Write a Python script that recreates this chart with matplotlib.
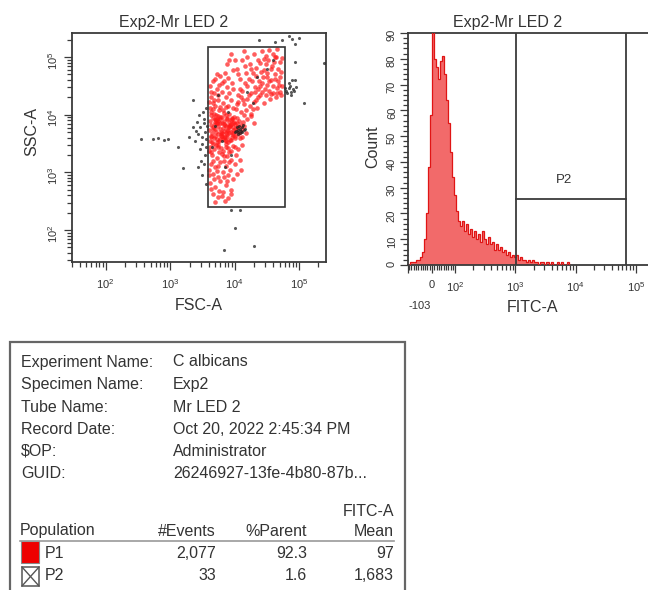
import numpy as np
import matplotlib
matplotlib.use('Agg')
import matplotlib.pyplot as plt
import matplotlib.ticker as mt
import matplotlib.transforms as mtrans
from matplotlib.patches import Rectangle
from matplotlib.lines import Line2D

plt.rcParams['font.family'] = ['Liberation Sans', 'DejaVu Sans']
plt.rcParams['mathtext.fontset'] = 'custom'
plt.rcParams['mathtext.rm'] = 'Liberation Sans'
plt.rcParams['mathtext.it'] = 'Liberation Sans:italic'
plt.rcParams['mathtext.bf'] = 'Liberation Sans:bold'

# ---------------- data ----------------
title = "Exp2-Mr LED 2"

# P1 events (log10 FSC-A, log10 SSC-A)
p1_fsc_log = [
    3.62,3.65,3.63,3.66,3.64,3.68,3.70,3.69,3.71,3.72,3.74,3.75,3.73,3.76,3.78,3.79,3.77,3.80,3.81,3.82,
    3.83,3.84,3.86,3.87,3.85,3.88,3.89,3.90,3.91,3.92,3.94,3.95,3.93,3.96,3.97,3.98,3.99,4.00,4.02,4.01,
    4.03,4.05,4.06,4.07,4.09,4.10,4.12,4.13,4.15,4.11,3.61,3.62,3.67,3.68,3.70,3.72,3.74,3.76,3.78,3.80,
    3.82,3.84,3.86,3.88,3.90,3.92,3.94,3.96,3.98,4.00,3.64,3.66,3.69,3.71,3.73,3.75,3.77,3.79,3.81,3.83,
    3.85,3.87,3.89,3.91,3.93,3.95,3.97,3.99,4.04,4.08,
    3.62,3.66,3.70,3.64,3.74,3.78,3.68,3.82,3.72,3.86,3.76,3.90,3.80,3.94,3.84,3.98,3.88,3.62,3.92,3.70,
    3.96,3.66,3.78,3.86,3.74,3.60,3.90,3.82,3.98,3.68,
    4.02,4.06,4.10,4.05,4.14,4.18,4.12,4.20,4.24,4.16,4.26,4.30,4.22,4.32,4.36,4.28,4.38,4.42,4.34,4.44,
    4.48,4.40,4.50,4.54,4.46,4.56,4.60,4.52,4.62,4.66,4.58,4.68,4.70,4.64,4.72,4.74,4.08,4.04,4.12,4.18,
    4.24,4.30,4.36,4.42,4.48,4.54,4.60,4.66,4.70,4.20,4.10,4.15,4.25,4.35,4.45,4.55,4.65,4.72,4.40,4.50,
    4.00,3.95,3.88,4.14,
    3.62,3.68,3.75,3.82,3.90,3.98,4.05,4.12,3.65,3.72,3.80,3.88,3.95,4.02,3.63,3.70,3.78,3.86,3.93,4.00,
    3.66,3.74,3.82,3.90,3.98,3.62,3.70,3.78,3.86,3.94,3.66,3.74,3.82,3.90,3.70,3.85,3.60,3.60,4.08,4.10,
    3.76,3.84,3.92,3.68,3.80,
    4.20,4.25,4.18,4.30,
    3.63,3.67,3.72,3.77,3.83,3.88,3.93,3.97,4.03,3.65,3.71,3.79,3.85,3.91,3.96,4.01,3.64,3.69,3.74,3.87,
    4.03,4.09,4.13,4.19,4.23,4.27,4.31,4.33,4.37,4.41,4.43,4.47,4.49,4.51,4.53,4.57,4.59,4.61,4.63,4.67,
    4.69,4.71,4.73,4.62,4.45,4.26,4.16,4.06,3.98,3.92,3.85,3.80,3.72,3.66,3.63,4.33,4.39,4.57,4.66,4.28,
    3.64,3.71,3.79,3.87,3.94,4.01,3.67,3.75,3.83,3.91,3.61,3.72,3.88,3.76,3.95,4.04,3.64,3.84,
]
p1_ssc_log = [
    3.55,3.68,3.82,3.95,4.05,3.60,3.75,3.88,4.00,3.52,3.66,3.80,3.92,4.08,3.58,3.71,3.85,3.97,3.63,3.77,
    3.90,4.03,3.55,3.69,3.83,3.94,3.61,3.74,3.87,4.01,3.57,3.70,3.81,3.92,3.65,3.78,3.88,3.60,3.72,3.84,
    3.95,3.66,3.79,3.90,3.70,3.83,3.75,3.88,3.80,3.62,3.73,3.90,3.50,4.02,3.63,3.86,3.98,3.54,3.92,3.68,
    3.58,3.84,3.99,3.66,3.52,3.79,3.91,3.62,3.86,3.75,3.62,3.78,3.93,3.70,3.58,3.89,3.76,3.64,3.86,3.72,
    3.62,3.80,3.93,3.68,3.57,3.84,3.73,3.96,3.86,3.60,
    4.12,4.20,4.15,4.30,4.25,4.13,4.38,4.20,4.45,4.30,4.52,4.16,4.40,4.26,4.58,4.12,4.48,4.50,4.38,4.62,
    4.55,4.10,4.68,4.14,4.34,4.22,4.64,4.08,4.44,4.26,
    4.10,4.22,4.05,4.35,4.18,4.08,4.42,4.28,4.15,4.55,4.38,4.22,4.62,4.48,4.30,4.72,4.58,4.40,4.82,4.66,
    4.35,4.90,4.52,4.42,4.78,4.60,4.38,4.95,4.70,4.46,4.85,4.58,4.40,5.00,4.75,4.50,4.62,4.80,4.95,4.72,
    4.88,5.05,4.95,5.10,5.02,5.12,5.06,5.14,4.92,5.00,4.30,4.00,4.02,4.12,4.20,4.28,4.30,4.35,4.50,4.65,
    4.95,5.05,4.88,5.10,
    3.45,3.40,3.44,3.38,3.42,3.46,3.40,3.48,3.30,3.25,3.32,3.28,3.22,3.30,3.15,3.10,3.18,3.12,3.05,3.15,
    2.98,2.92,3.00,2.95,2.88,2.82,2.75,2.85,2.78,2.70,2.62,2.58,2.66,2.55,2.48,2.50,3.38,3.05,3.22,3.05,
    3.35,3.20,3.35,2.88,2.60,
    3.92,3.98,3.68,3.85,
    3.64,3.75,3.86,3.97,3.62,3.73,3.83,3.68,3.78,3.52,3.91,3.67,3.57,3.81,3.95,3.64,4.00,3.84,3.47,3.49,
    4.18,4.45,4.25,4.50,4.35,4.58,4.40,4.68,4.45,4.75,4.55,4.45,4.88,4.72,4.58,4.80,4.50,4.92,4.62,4.80,
    4.52,4.65,4.98,5.00,4.96,4.80,4.85,4.70,4.78,4.95,4.72,4.55,4.70,4.58,4.40,4.25,4.35,4.36,4.38,4.10,
    3.36,3.48,3.42,3.45,3.38,3.44,3.20,3.12,3.28,3.18,2.95,3.02,2.85,2.68,2.62,2.98,2.72,2.92,
]

# events outside P1 (black dots)
other_fsc_log = [
    4.05,4.08,4.10,4.06,4.12,4.04,4.09,4.14,4.07,4.11,4.02,4.13,4.00,4.16,4.06,
    3.70,3.80,3.90,3.65,4.20,4.50,3.85,3.75,4.35,3.95,4.60,4.28,
    3.50,3.54,3.47,3.52,3.56,3.44,3.53,3.49,3.55,3.40,3.51,3.46,3.57,3.42,3.54,3.48,3.38,3.56,3.45,3.35,
    3.52,3.30,3.50,3.43,3.55,
    2.55,2.73,2.81,2.91,2.97,3.20,3.12,3.36,
    4.80,4.84,4.87,4.90,4.82,4.86,4.92,4.78,4.88,4.95,4.84,4.93,4.89,4.94,5.08,
    4.63,4.73,4.89,4.94,5.00,4.84,4.38,5.39,
    3.95,4.08,4.00,3.83,4.30,
]
other_ssc_log = [
    3.74,3.76,3.72,3.70,3.78,3.78,3.68,3.74,3.80,3.70,3.72,3.82,3.70,3.76,3.66,
    3.80,3.55,4.05,3.45,4.40,4.80,3.10,4.35,4.65,3.30,4.95,4.20,
    3.62,3.70,3.78,3.85,3.58,3.66,3.92,3.50,3.45,3.72,4.05,3.40,3.80,3.88,3.30,3.20,3.55,4.12,4.00,3.78,
    3.15,3.62,2.95,3.10,2.80,
    3.58,3.58,3.59,3.57,3.58,3.08,3.44,4.26,
    4.42,4.46,4.40,4.45,4.38,4.50,4.41,4.47,4.35,4.48,4.55,4.60,4.61,4.92,4.21,
    5.27,5.30,5.32,5.22,5.34,5.36,5.30,4.90,
    2.35,2.35,2.03,1.65,1.72,
]

# P1 gate (FSC-A min/max, SSC-A min/max)
p1_gate_fsc = [3930, 60000]
p1_gate_ssc = [250, 151000]

# FITC-A histogram counts (one value per display bin, from -104 upward)
hist_counts = [
    0, 1, 1, 1, 2, 2, 3, 5, 10, 20, 38, 58, 96, 80, 77, 72, 79, 81, 74, 64,
    55, 44, 34, 27, 21, 17, 15, 17, 13, 16, 12, 14, 11, 13, 10, 12, 9, 13, 10, 8,
    11, 8, 9, 6, 8, 6, 7, 5, 6, 4, 5, 3, 4, 3, 4, 2, 3, 2, 2, 1,
    2, 1, 2, 1, 1, 0, 1, 1, 0, 1, 0, 1, 0, 0, 1, 0, 1, 0, 0, 1,
]
p2_gate_fitc = [1040, 68000]
p2_gate_count = 25.6

info_labels = ["Experiment Name:", "Specimen Name:", "Tube Name:", "Record Date:", "$OP:", "GUID:"]
info_values = ["C albicans", "Exp2", "Mr LED 2", "Oct 20, 2022 2:45:34 PM", "Administrator",
               "26246927-13fe-4b80-87b..."]
pop_names = ["P1", "P2"]
pop_events = ["2,077", "33"]
pop_parent = ["92.3", "1.6"]
pop_mean = ["97", "1,683"]

# ---------------- figure ----------------
W, H = 648, 590
fig = plt.figure(figsize=(W / 100, H / 100), dpi=100)
fig.patch.set_facecolor('white')


def fx(px):
    return px / W


def fy(py):
    return 1 - py / H


TXT = '#333333'
SPINE = '#3a3a3a'

# ----- dot plot -----
ax1 = fig.add_axes([fx(72), fy(262), (326 - 72) / W, (262 - 33) / H])
ax1.set_xscale('log')
ax1.set_yscale('log')
ax1.set_xlim(30, 262143)
ax1.set_ylim(28, 262143)
ax1.scatter(10 ** np.array(p1_fsc_log), 10 ** np.array(p1_ssc_log), s=11, c='#ff1a1a',
            linewidths=0, alpha=0.7, zorder=2)
ax1.scatter(10 ** np.array(other_fsc_log), 10 ** np.array(other_ssc_log), s=5, c='#222222',
            linewidths=0, alpha=0.75, zorder=3)
ax1.add_patch(Rectangle((p1_gate_fsc[0], p1_gate_ssc[0]), p1_gate_fsc[1] - p1_gate_fsc[0],
                        p1_gate_ssc[1] - p1_gate_ssc[0], fill=False, ec='#333333', lw=1.2, zorder=4))

dec = [1e2, 1e3, 1e4, 1e5]
dec_lab = ['$10^{2}$', '$10^{3}$', '$10^{4}$', '$10^{5}$']
ax1.set_xticks(dec, dec_lab)
ax1.set_yticks(dec, dec_lab)
for axis in (ax1.xaxis, ax1.yaxis):
    axis.set_minor_locator(mt.LogLocator(base=10, subs=np.arange(2, 10), numticks=20))
    axis.set_minor_formatter(mt.NullFormatter())
ax1.tick_params(which='both', direction='out', colors=SPINE, labelcolor=TXT, width=0.9)
ax1.tick_params(which='major', length=6, labelsize=8)
ax1.tick_params(which='minor', length=3.5)
ax1.tick_params(axis='x', pad=5)
ax1.tick_params(axis='y', labelrotation=90, pad=3)
for sp in ax1.spines.values():
    sp.set_color(SPINE)
    sp.set_linewidth(1.3)

# ----- histogram -----
ax2 = fig.add_axes([fx(408), fy(265), (661 - 408) / W, (265 - 33) / H])
ax2.set_xscale('symlog', linthresh=100, linscale=0.345, base=10)
ax2.set_xlim(-104, 262143)
ax2.set_ylim(0, 90)
inv = ax2.xaxis.get_transform().inverted()
t_edges = (-0.4 + np.arange(len(hist_counts) + 1) / 30.0) * 100.0
edges = inv.transform(t_edges.reshape(-1, 1)).ravel()
ax2.stairs(hist_counts, edges, fill=True, color='#f26a6a', zorder=2)
ax2.stairs(hist_counts, edges, fill=False, color='#e01515', lw=0.9, zorder=3)

for v in p2_gate_fitc:
    ax2.axvline(v, color='#3a3a3a', lw=1.3, zorder=4)
ax2.plot(p2_gate_fitc, [p2_gate_count, p2_gate_count], color='#3a3a3a', lw=1.3, zorder=4)
ax2.text(np.sqrt(p2_gate_fitc[0] * p2_gate_fitc[1]) * 0.75, p2_gate_count + 7.5, 'P2',
         ha='center', va='center', fontsize=9.5, color=TXT)

ax2.set_xticks([-103, 0, 100, 1000, 1e4, 1e5], ['', '0', '$10^{2}$', '$10^{3}$', '$10^{4}$', '$10^{5}$'])
minors = [v for v in range(-100, 100, 10) if v != 0]
for d in (100, 1000, 10000, 100000):
    minors += [d * k for k in range(2, 10)]
minors = [m for m in minors if m <= 262143]
ax2.xaxis.set_minor_locator(mt.FixedLocator(minors))
ax2.set_yticks(range(0, 91, 10))
ax2.yaxis.set_minor_locator(mt.MultipleLocator(2))
ax2.tick_params(which='both', direction='out', colors=SPINE, labelcolor=TXT, width=0.9)
ax2.tick_params(which='major', length=6, labelsize=8)
ax2.tick_params(which='minor', length=3.5)
ax2.tick_params(axis='x', pad=5)
ax2.tick_params(axis='y', labelrotation=90, pad=2)
for sp in ax2.spines.values():
    sp.set_color(SPINE)
    sp.set_linewidth(1.3)
ax2.text(-103, -0.175, '-103', transform=mtrans.blended_transform_factory(ax2.transData, ax2.transAxes),
         ha='left', va='center', fontsize=8, color=TXT, clip_on=False)

# ----- titles and axis labels -----
fs = 11.5
fig.text(fx(174), fy(22), title, ha='center', va='center', fontsize=fs, color=TXT)
fig.text(fx(508), fy(22), title, ha='center', va='center', fontsize=fs, color=TXT)
fig.text(fx(199), fy(305), 'FSC-A', ha='center', va='center', fontsize=fs, color=TXT)
fig.text(fx(32), fy(132), 'SSC-A', ha='center', va='center', fontsize=fs, color=TXT, rotation=90)
fig.text(fx(373), fy(147), 'Count', ha='center', va='center', fontsize=fs, color=TXT, rotation=90)
fig.text(fx(532), fy(308), 'FITC-A', ha='center', va='center', fontsize=fs, color=TXT)

# ----- statistics table -----
fig.patches.append(Rectangle((fx(10), fy(600)), (405 - 10) / W, (600 - 342) / H, fill=False,
                             ec='#666666', lw=1.6, transform=fig.transFigure, figure=fig))
tfs = 11.5
row_y = [362, 385, 407, 429, 451, 473]
for lab, val, yy in zip(info_labels, info_values, row_y):
    fig.text(fx(21), fy(yy), lab, ha='left', va='center', fontsize=tfs, color=TXT)
    fig.text(fx(173), fy(yy), val, ha='left', va='center', fontsize=tfs, color=TXT)

fig.text(fx(394), fy(512), 'FITC-A', ha='right', va='center', fontsize=tfs, color=TXT)
hdr_y = 531
fig.text(fx(20), fy(hdr_y), 'Population', ha='left', va='center', fontsize=tfs, color=TXT)
fig.text(fx(216), fy(hdr_y), '#Events', ha='right', va='center', fontsize=tfs, color=TXT)
fig.text(fx(307), fy(hdr_y), '%Parent', ha='right', va='center', fontsize=tfs, color=TXT)
fig.text(fx(394), fy(hdr_y), 'Mean', ha='right', va='center', fontsize=tfs, color=TXT)
fig.lines.append(Line2D([fx(20), fx(394)], [fy(541), fy(541)], color='#999999', lw=1.2,
                        transform=fig.transFigure, figure=fig))

pop_y = [553, 576]
for name, ev, par, mean, yy in zip(pop_names, pop_events, pop_parent, pop_mean, pop_y):
    fig.text(fx(45), fy(yy), name, ha='left', va='center', fontsize=tfs, color=TXT)
    fig.text(fx(216), fy(yy), ev, ha='right', va='center', fontsize=tfs, color=TXT)
    fig.text(fx(307), fy(yy), par, ha='right', va='center', fontsize=tfs, color=TXT)
    fig.text(fx(394), fy(yy), mean, ha='right', va='center', fontsize=tfs, color=TXT)

# P1 icon: red square
fig.patches.append(Rectangle((fx(21), fy(563)), 18 / W, 22 / H, fc='#ee0000', ec='#888888', lw=0.8,
                             transform=fig.transFigure, figure=fig))
# P2 icon: crossed box
x0, x1, y0, y1 = 22, 39, 567, 586
fig.patches.append(Rectangle((fx(x0), fy(y1)), (x1 - x0) / W, (y1 - y0) / H, fill=False, ec='#555555',
                             lw=1.1, transform=fig.transFigure, figure=fig))
fig.lines.append(Line2D([fx(x0), fx(x1)], [fy(y0), fy(y1)], color='#555555', lw=1.0,
                        transform=fig.transFigure, figure=fig))
fig.lines.append(Line2D([fx(x0), fx(x1)], [fy(y1), fy(y0)], color='#555555', lw=1.0,
                        transform=fig.transFigure, figure=fig))

fig.savefig('out.png', dpi=100)
